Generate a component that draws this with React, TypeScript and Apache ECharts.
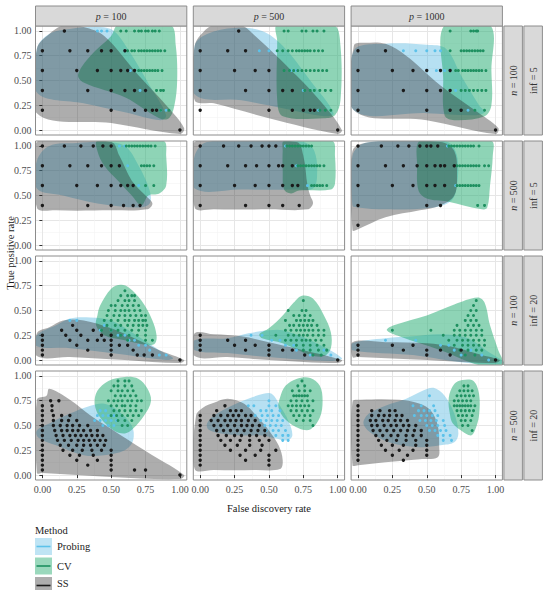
import React, { useEffect, useRef } from "react";
import * as echarts from "echarts";

type Rows = [number, number[]][];
type Hull = [number, number][];

// Facet levels
const pLevels = ["100", "500", "1000"];
const nLevels = ["100", "500", "100", "500"];
const infLevels = ["5", "5", "20", "20"];
const methods = ["Probing", "CV", "SS"];
const majorBreaks = [0, 0.25, 0.5, 0.75, 1];
const minorBreaks = [0.125, 0.375, 0.625, 0.875];

// Points are stored as rows: [true positive rate, [false discovery rates]]
// ---- n = 100, inf = 5 ----
const pts_ss_n100_inf5_p100: Rows = [[1.0, [0.16]], [0.8, [0, 0.2, 0.33, 0.43, 0.5, 0.6]], [0.6, [0, 0.25, 0.4, 0.5, 0.57, 0.62, 0.67]], [0.4, [0, 0.33, 0.5, 0.6, 0.67, 0.75]], [0.2, [0, 0.5, 0.67, 0.75, 0.8, 0.83]], [0, [1.0]]];
const pts_pr_n100_inf5_p100: Rows = [[1.0, [0.4, 0.43, 0.47]], [0.8, [0.6]], [0.6, [0.64]], [0.4, [0.71, 0.75]], [0.2, [0.86, 0.9]]];
const pts_cv_n100_inf5_p100: Rows = [[1.0, [0.57, 0.61, 0.67, 0.7, 0.72, 0.75, 0.77, 0.8, 0.82, 0.85]], [0.8, [0.62, 0.65, 0.67, 0.7, 0.72, 0.74, 0.76, 0.78, 0.8, 0.82, 0.84, 0.86, 0.89]], [0.6, [0.7, 0.72, 0.74, 0.76, 0.78, 0.8, 0.82, 0.84, 0.87]], [0.4, [0.83, 0.86, 0.88]], [0.2, [0.86, 0.92]]];
const pts_ss_n100_inf5_p500: Rows = [[1.0, [0.28]], [0.8, [0, 0.2, 0.33]], [0.6, [0, 0.25, 0.4, 0.5]], [0.4, [0, 0.33, 0.5, 0.6, 0.67]], [0.2, [0, 0.5, 0.67, 0.75, 0.8, 0.83]], [0, [1.0]]];
const pts_pr_n100_inf5_p500: Rows = [[0.8, [0.43, 0.5]], [0.6, [0.66, 0.7]], [0.4, [0.75]], [0.2, [0.86]]];
const pts_cv_n100_inf5_p500: Rows = [[1.0, [0.61, 0.64, 0.74, 0.77, 0.82, 0.85, 0.9]], [0.8, [0.56, 0.6, 0.64, 0.67, 0.7, 0.72, 0.74, 0.76, 0.78, 0.8, 0.83, 0.86, 0.89]], [0.6, [0.61, 0.65, 0.68, 0.71, 0.74, 0.77, 0.8, 0.83, 0.86, 0.89, 0.92]], [0.4, [0.76, 0.8, 0.83, 0.87, 0.91, 0.95]], [0.2, [0.87, 0.91, 0.95]]];
const pts_ss_n100_inf5_p1000: Rows = [[0.8, [0, 0.2]], [0.6, [0, 0.25, 0.4, 0.5, 0.6, 0.67]], [0.4, [0, 0.33, 0.5, 0.6, 0.67]], [0.2, [0, 0.5, 0.67, 0.75]], [0, [1.0]]];
const pts_pr_n100_inf5_p1000: Rows = [[0.8, [0.33, 0.42, 0.5, 0.56, 0.6]], [0.6, [0.57, 0.63, 0.67]], [0.4, [0.71]], [0.2, [0.8]]];
const pts_cv_n100_inf5_p1000: Rows = [[1.0, [0.67, 0.82, 0.84, 0.86, 0.87]], [0.8, [0.67, 0.75, 0.77, 0.79, 0.81, 0.83, 0.85, 0.87, 0.89, 0.91]], [0.6, [0.71, 0.73, 0.76, 0.78, 0.8, 0.82, 0.84, 0.86, 0.88, 0.9, 0.93]], [0.4, [0.75, 0.78, 0.81, 0.84, 0.87, 0.9, 0.93]], [0.2, [0.85, 0.92]]];

// ---- n = 500, inf = 5 ----
const pts_ss_n500_inf5_p100: Rows = [[1.0, [0, 0.16, 0.28, 0.37, 0.44, 0.5]], [0.8, [0, 0.2, 0.33, 0.43, 0.5, 0.56]], [0.6, [0, 0.25, 0.4, 0.5, 0.57, 0.62, 0.66]], [0.4, [0, 0.33, 0.5, 0.59, 0.66, 0.71]]];
const pts_pr_n500_inf5_p100: Rows = [[1.0, [0.56, 0.6]], [0.8, [0.62]], [0.6, [0.7]]];
const pts_cv_n500_inf5_p100: Rows = [[1.0, [0.61, 0.63, 0.65, 0.67, 0.69, 0.71, 0.73, 0.75, 0.77, 0.79, 0.82]], [0.8, [0.72, 0.74, 0.76, 0.78, 0.81]], [0.6, [0.75, 0.81]]];
const pts_ss_n500_inf5_p500: Rows = [[1.0, [0, 0.17, 0.28, 0.37, 0.45, 0.5, 0.55]], [0.8, [0, 0.2, 0.33, 0.41, 0.5, 0.57, 0.6, 0.67]], [0.6, [0, 0.25, 0.4, 0.5, 0.6, 0.67, 0.71]], [0.4, [0, 0.33, 0.5, 0.6, 0.72]]];
const pts_pr_n500_inf5_p500: Rows = [[1.0, [0.62]], [0.8, [0.7]], [0.6, [0.78]]];
const pts_cv_n500_inf5_p500: Rows = [[1.0, [0.63, 0.65, 0.67, 0.69, 0.71, 0.73, 0.75, 0.77, 0.79, 0.81]], [0.8, [0.71, 0.73, 0.75, 0.77, 0.79, 0.81, 0.83, 0.85, 0.87, 0.9]], [0.6, [0.81, 0.83, 0.85, 0.87, 0.89, 0.92]]];
const pts_ss_n500_inf5_p1000: Rows = [[1.0, [0, 0.17, 0.29, 0.37, 0.45, 0.5, 0.53, 0.58]], [0.8, [0, 0.2, 0.33, 0.43, 0.5, 0.56, 0.6, 0.63, 0.7]], [0.6, [0, 0.25, 0.4, 0.5, 0.56, 0.63]], [0.4, [0, 0.5, 0.6]], [0.2, [0]]];
const pts_pr_n500_inf5_p1000: Rows = [[1.0, [0.65]], [0.6, [0.71]]];
const pts_cv_n500_inf5_p1000: Rows = [[1.0, [0.66, 0.68, 0.7, 0.72, 0.74, 0.76, 0.78, 0.8, 0.82, 0.84, 0.88]], [0.8, [0.7, 0.72, 0.74, 0.76, 0.78, 0.8, 0.82, 0.84, 0.86, 0.88, 0.92, 0.95]], [0.6, [0.72, 0.74, 0.76, 0.78, 0.8, 0.82, 0.84, 0.86, 0.88]], [0.4, [0.87, 0.92]]];

// ---- n = 100, inf = 20 ----
const pts_ss_n100_inf20_p100: Rows = [[0.35, [0.22]], [0.3, [0.14, 0.25, 0.37]], [0.25, [0, 0.17, 0.28, 0.43, 0.5]], [0.2, [0, 0.2, 0.33, 0.4, 0.45, 0.5]], [0.15, [0, 0.25, 0.5, 0.56, 0.62]], [0.1, [0, 0.33, 0.5, 0.66]], [0.05, [0, 0.5, 0.69, 0.74, 0.8]], [0, [1.0]]];
const pts_pr_n100_inf20_p100: Rows = [[0.4, [0.2, 0.25]], [0.35, [0.45]], [0.3, [0.42, 0.5]], [0.25, [0.55, 0.6]], [0.2, [0.63, 0.67]], [0.15, [0.7, 0.75]], [0.1, [0.78]], [0.05, [0.85, 0.9]]];
const pts_cv_n100_inf20_p100: Rows = [[0.7, [0.6]], [0.65, [0.57, 0.62, 0.65, 0.67]], [0.6, [0.55, 0.6, 0.63, 0.67]], [0.55, [0.5, 0.53, 0.58, 0.62, 0.66, 0.7]], [0.5, [0.48, 0.53, 0.57, 0.6, 0.63, 0.67, 0.71]], [0.45, [0.47, 0.52, 0.56, 0.6, 0.64, 0.68, 0.72, 0.75]], [0.4, [0.45, 0.5, 0.55, 0.6, 0.63, 0.67, 0.7, 0.73, 0.75]], [0.35, [0.47, 0.53, 0.57, 0.62, 0.66, 0.7, 0.73, 0.76]], [0.3, [0.43, 0.5, 0.55, 0.6, 0.65, 0.7, 0.75]], [0.25, [0.5, 0.57, 0.63, 0.69, 0.75]], [0.2, [0.62, 0.75, 0.8]]];
const pts_ss_n100_inf20_p500: Rows = [[0.25, [0]], [0.2, [0, 0.2, 0.33]], [0.15, [0, 0.25, 0.4, 0.5]], [0.1, [0, 0.33, 0.5, 0.6, 0.67]], [0.05, [0.5, 0.76]], [0, [1.0]]];
const pts_pr_n100_inf20_p500: Rows = [[0.25, [0.37, 0.45]], [0.2, [0.52, 0.58]], [0.15, [0.62, 0.68]], [0.1, [0.7, 0.9]], [0.05, [0.8, 0.95]]];
const pts_cv_n100_inf20_p500: Rows = [[0.6, [0.75]], [0.5, [0.64, 0.74, 0.77]], [0.45, [0.68, 0.72, 0.76, 0.8]], [0.4, [0.62, 0.7, 0.73, 0.76, 0.79, 0.82]], [0.35, [0.65, 0.68, 0.72, 0.75, 0.78, 0.81, 0.85]], [0.3, [0.62, 0.66, 0.7, 0.73, 0.76, 0.79, 0.82, 0.86, 0.9]], [0.25, [0.55, 0.64, 0.68, 0.72, 0.75, 0.78, 0.82, 0.86, 0.9]], [0.2, [0.62, 0.66, 0.7, 0.74, 0.77, 0.8, 0.84, 0.88]], [0.15, [0.7, 0.75, 0.8, 0.85, 0.9]], [0.1, [0.75, 0.8, 0.86, 0.92]], [0.05, [0.82, 0.88]]];
const pts_ss_n100_inf20_p1000: Rows = [[0.15, [0, 0.25, 0.4]], [0.1, [0, 0.33, 0.5, 0.6, 0.75]], [0.05, [0, 0.5, 0.67]], [0, [1.0]]];
const pts_pr_n100_inf20_p1000: Rows = [[0.2, [0.2, 0.42]], [0.15, [0.6, 0.66]], [0.1, [0.7, 0.82]], [0.05, [0.75, 0.9]], [0, [0.95]]];
const pts_cv_n100_inf20_p1000: Rows = [[0.6, [0.86]], [0.55, [0.84]], [0.5, [0.82, 0.86]], [0.45, [0.8, 0.84]], [0.4, [0.78, 0.82, 0.86]], [0.35, [0.72, 0.8, 0.84, 0.88]], [0.3, [0.25, 0.53, 0.7, 0.74, 0.78, 0.82, 0.86, 0.9]], [0.25, [0.62, 0.7, 0.74, 0.78, 0.82, 0.86, 0.9]], [0.2, [0.66, 0.72, 0.76, 0.8, 0.84, 0.88, 0.92]], [0.15, [0.7, 0.76, 0.8, 0.84, 0.88, 0.92]], [0.1, [0.74, 0.8, 0.86, 0.9]], [0.05, [0.78, 0.85]]];

// ---- n = 500, inf = 20 ----
const pts_ss_n500_inf20_p100: Rows = [[0.75, [0.06, 0.12]], [0.7, [0, 0.07]], [0.65, [0, 0.07]], [0.6, [0, 0.08, 0.14, 0.2]], [0.55, [0, 0.08, 0.14, 0.19, 0.25]], [0.5, [0, 0.08, 0.13, 0.18, 0.22, 0.27, 0.33]], [0.45, [0, 0.09, 0.14, 0.18, 0.22, 0.26, 0.3, 0.35, 0.4]], [0.4, [0, 0.1, 0.15, 0.2, 0.24, 0.28, 0.32, 0.36, 0.4, 0.44]], [0.35, [0, 0.11, 0.16, 0.21, 0.26, 0.3, 0.34, 0.38, 0.42, 0.46]], [0.3, [0, 0.13, 0.19, 0.25, 0.3, 0.35, 0.4, 0.45]], [0.25, [0, 0.15, 0.22, 0.29, 0.36, 0.43, 0.5]], [0.2, [0, 0.2, 0.27, 0.37, 0.5]], [0.15, [0, 0.25, 0.4, 0.5]], [0.1, [0, 0.33, 0.5]], [0.05, [0, 0.5, 0.67, 0.75]], [0, [1.0]]];
const pts_pr_n500_inf20_p100: Rows = [[0.65, [0.42, 0.46]], [0.6, [0.4, 0.44, 0.48, 0.52]], [0.55, [0.38, 0.42, 0.46, 0.5, 0.54]], [0.5, [0.44, 0.48, 0.52]]];
const pts_cv_n500_inf20_p100: Rows = [[0.95, [0.55, 0.6, 0.63]], [0.9, [0.52, 0.55, 0.6, 0.65]], [0.85, [0.5, 0.55, 0.58, 0.62, 0.66]], [0.8, [0.53, 0.57, 0.6, 0.64, 0.68]], [0.75, [0.48, 0.52, 0.55, 0.58, 0.62, 0.65, 0.69, 0.72]], [0.7, [0.5, 0.54, 0.58, 0.6, 0.64, 0.68]], [0.65, [0.52, 0.56, 0.6, 0.64, 0.68, 0.72]], [0.6, [0.5, 0.54, 0.58, 0.62, 0.66, 0.7]], [0.55, [0.55, 0.6, 0.65]], [0.5, [0.58, 0.62]]];
const pts_ss_n500_inf20_p500: Rows = [[0.7, [0.18]], [0.65, [0.12, 0.22, 0.26, 0.3]], [0.6, [0, 0.1, 0.15, 0.2, 0.24, 0.28, 0.33, 0.37]], [0.55, [0, 0.08, 0.13, 0.18, 0.22, 0.26, 0.3, 0.35, 0.4]], [0.5, [0, 0.1, 0.15, 0.2, 0.25, 0.3, 0.34, 0.38, 0.43]], [0.45, [0, 0.12, 0.17, 0.22, 0.27, 0.32, 0.37, 0.42, 0.47]], [0.4, [0, 0.13, 0.19, 0.25, 0.3, 0.36, 0.41, 0.47]], [0.35, [0, 0.15, 0.22, 0.29, 0.36, 0.43, 0.5]], [0.3, [0, 0.18, 0.27, 0.36, 0.45]], [0.25, [0, 0.22, 0.33, 0.44, 0.55]], [0.2, [0, 0.29, 0.4, 0.5]], [0.15, [0, 0.33, 0.5]], [0.1, [0, 0.5]]];
const pts_pr_n500_inf20_p500: Rows = [[0.75, [0.5]], [0.7, [0.35, 0.39, 0.5, 0.55]], [0.65, [0.44, 0.48, 0.52, 0.58]], [0.6, [0.4, 0.45, 0.49, 0.53, 0.57]], [0.55, [0.44, 0.48, 0.52, 0.56, 0.6]], [0.5, [0.47, 0.51, 0.55, 0.59]], [0.45, [0.48, 0.53, 0.57, 0.62]], [0.4, [0.55, 0.6, 0.64]], [0.35, [0.6, 0.64]]];
const pts_cv_n500_inf20_p500: Rows = [[0.95, [0.74]], [0.9, [0.71, 0.76]], [0.85, [0.67, 0.72, 0.76, 0.8]], [0.8, [0.68, 0.7, 0.72, 0.74, 0.76, 0.78]], [0.75, [0.66, 0.7, 0.74, 0.78, 0.82]], [0.7, [0.64, 0.67, 0.7, 0.73, 0.76, 0.79]], [0.65, [0.66, 0.7, 0.74, 0.78, 0.82]], [0.6, [0.68, 0.72, 0.76, 0.8]], [0.55, [0.7, 0.75, 0.8]], [0.5, [0.82]]];
const pts_ss_n500_inf20_p1000: Rows = [[0.7, [0]], [0.65, [0, 0.1, 0.16, 0.23, 0.27]], [0.6, [0, 0.1, 0.15, 0.19, 0.23, 0.28, 0.32]], [0.55, [0, 0.09, 0.13, 0.18, 0.22, 0.27, 0.31, 0.36]], [0.5, [0, 0.1, 0.14, 0.19, 0.24, 0.28, 0.33, 0.37, 0.42]], [0.45, [0, 0.11, 0.16, 0.21, 0.26, 0.31, 0.36, 0.41, 0.46]], [0.4, [0, 0.13, 0.18, 0.24, 0.29, 0.35, 0.4, 0.46]], [0.35, [0, 0.15, 0.21, 0.28, 0.35, 0.42, 0.5]], [0.3, [0, 0.17, 0.25, 0.33, 0.42, 0.5]], [0.25, [0, 0.2, 0.3, 0.4, 0.5]], [0.2, [0, 0.25, 0.36, 0.5]], [0.15, [0, 0.33]]];
const pts_pr_n500_inf20_p1000: Rows = [[0.8, [0.52]], [0.7, [0.4, 0.46, 0.55]], [0.65, [0.44, 0.48, 0.52, 0.56]], [0.6, [0.41, 0.46, 0.5, 0.54, 0.58]], [0.55, [0.45, 0.49, 0.53, 0.57, 0.62]], [0.5, [0.5, 0.54, 0.58, 0.63]], [0.45, [0.52, 0.56, 0.6, 0.64]], [0.4, [0.58, 0.62, 0.67]], [0.35, [0.62, 0.68]]];
const pts_cv_n500_inf20_p1000: Rows = [[0.9, [0.77, 0.8]], [0.85, [0.74, 0.77, 0.8, 0.83]], [0.8, [0.72, 0.75, 0.78, 0.81, 0.84]], [0.75, [0.7, 0.73, 0.76, 0.79, 0.82]], [0.7, [0.7, 0.72, 0.74, 0.76, 0.78, 0.8, 0.82, 0.85]], [0.65, [0.72, 0.75, 0.78, 0.81, 0.84]], [0.6, [0.73, 0.76, 0.79, 0.83]], [0.55, [0.75, 0.78, 0.82]], [0.5, [0.76, 0.8]], [0.45, [0.83]]];

// Hull outlines per method and facet: [false discovery rate, true positive rate]
const hull_ss_n100_inf5_p100: Hull = [[-0.04, 0.17], [-0.04, 0.82], [0.05, 0.97], [0.16, 1.06], [0.3, 1.04], [0.45, 0.95], [0.7, 0.55], [0.9, 0.25], [1.03, 0.02], [1.0, -0.04], [0.5, 0.07]];
const hull_pr_n100_inf5_p100: Hull = [[-0.04, 0.38], [-0.04, 0.82], [0.05, 0.97], [0.2, 1.02], [0.42, 1.04], [0.52, 1.0], [0.63, 0.8], [0.78, 0.45], [0.9, 0.15], [0.86, 0.1], [0.6, 0.18], [0.3, 0.27]];
const hull_cv_n100_inf5_p100: Hull = [[0.55, 1.06], [0.93, 1.06], [0.97, 0.85], [0.98, 0.5], [0.96, 0.25], [0.92, 0.12], [0.85, 0.12], [0.6, 0.33], [0.3, 0.48], [0.26, 0.56], [0.35, 0.75], [0.5, 0.95]];
const hull_ss_n100_inf5_p500: Hull = [[-0.04, 0.3], [-0.04, 0.85], [0.03, 1.0], [0.1, 1.06], [0.28, 1.07], [0.4, 0.95], [0.7, 0.55], [0.9, 0.25], [1.03, 0.0], [1.0, -0.04], [0.5, 0.12], [0.1, 0.27]];
const hull_pr_n100_inf5_p500: Hull = [[-0.04, 0.36], [-0.04, 0.85], [0.05, 0.97], [0.25, 1.03], [0.45, 1.0], [0.6, 0.85], [0.8, 0.5], [0.97, 0.17], [0.9, 0.14], [0.6, 0.22], [0.3, 0.3]];
const hull_cv_n100_inf5_p500: Hull = [[0.56, 1.06], [0.97, 1.06], [1.02, 0.85], [1.02, 0.3], [0.98, 0.15], [0.9, 0.12], [0.6, 0.14], [0.56, 0.3], [0.56, 0.9]];
const hull_ss_n100_inf5_p1000: Hull = [[-0.03, 0.2], [-0.03, 0.85], [0.05, 0.88], [0.2, 0.87], [0.35, 0.75], [0.6, 0.45], [0.85, 0.2], [1.02, 0.02], [1.0, -0.04], [0.5, 0.1]];
const hull_pr_n100_inf5_p1000: Hull = [[-0.03, 0.2], [-0.03, 0.8], [0.2, 0.87], [0.5, 0.86], [0.64, 0.82], [0.75, 0.55], [0.88, 0.25], [0.92, 0.18], [0.85, 0.15], [0.5, 0.17]];
const hull_cv_n100_inf5_p1000: Hull = [[0.63, 1.06], [0.96, 1.06], [0.97, 0.6], [0.97, 0.25], [0.92, 0.14], [0.7, 0.1], [0.63, 0.15], [0.62, 0.5]];

const hull_ss_n500_inf5_p100: Hull = [[-0.04, 0.38], [-0.04, 1.04], [0.5, 1.04], [0.56, 0.9], [0.65, 0.65], [0.75, 0.5], [0.8, 0.42], [0.76, 0.36], [0.5, 0.35], [0.1, 0.35]];
const hull_pr_n500_inf5_p100: Hull = [[-0.04, 0.57], [-0.04, 0.85], [0.05, 1.0], [0.25, 1.03], [0.45, 1.04], [0.6, 1.0], [0.7, 0.8], [0.78, 0.55], [0.78, 0.42], [0.7, 0.38], [0.4, 0.42], [0.15, 0.5]];
const hull_cv_n500_inf5_p100: Hull = [[0.4, 1.05], [0.88, 1.05], [0.9, 0.9], [0.9, 0.6], [0.85, 0.52], [0.77, 0.5], [0.72, 0.4], [0.65, 0.5], [0.55, 0.65], [0.45, 0.8], [0.4, 0.95]];
const hull_ss_n500_inf5_p500: Hull = [[-0.04, 0.38], [-0.04, 1.04], [0.7, 1.04], [0.75, 0.9], [0.78, 0.6], [0.8, 0.5], [0.82, 0.42], [0.78, 0.36], [0.5, 0.36], [0.1, 0.36]];
const hull_pr_n500_inf5_p500: Hull = [[-0.04, 0.57], [-0.04, 0.9], [0.05, 1.04], [0.5, 1.05], [0.75, 1.04], [0.83, 0.95], [0.85, 0.7], [0.82, 0.57], [0.7, 0.56], [0.3, 0.56]];
const hull_cv_n500_inf5_p500: Hull = [[0.61, 1.05], [0.96, 1.05], [0.98, 0.9], [0.98, 0.62], [0.95, 0.56], [0.72, 0.55], [0.66, 0.52], [0.61, 0.56], [0.6, 0.75], [0.6, 0.95]];
const hull_ss_n500_inf5_p1000: Hull = [[-0.04, 0.15], [-0.04, 0.95], [0.1, 1.04], [0.6, 1.04], [0.7, 0.95], [0.72, 0.7], [0.7, 0.5], [0.6, 0.4], [0.45, 0.35], [0.2, 0.28], [0.0, 0.16]];
const hull_pr_n500_inf5_p1000: Hull = [[-0.04, 0.4], [-0.04, 0.9], [0.05, 1.03], [0.4, 1.05], [0.65, 1.04], [0.72, 0.9], [0.72, 0.6], [0.68, 0.45], [0.55, 0.38], [0.2, 0.36], [0.0, 0.38]];
const hull_cv_n500_inf5_p1000: Hull = [[0.44, 1.04], [0.55, 1.06], [0.97, 1.05], [0.98, 0.9], [0.96, 0.6], [0.94, 0.38], [0.9, 0.36], [0.65, 0.44], [0.5, 0.47], [0.44, 0.55], [0.43, 0.8]];

const hull_ss_n100_inf20_p100: Hull = [[-0.04, 0.04], [-0.04, 0.27], [0.05, 0.33], [0.15, 0.4], [0.3, 0.4], [0.5, 0.32], [0.7, 0.2], [0.85, 0.1], [1.03, 0.0], [1.0, -0.03], [0.6, 0.0], [0.2, 0.03]];
const hull_pr_n100_inf20_p100: Hull = [[-0.04, 0.14], [-0.04, 0.25], [0.1, 0.35], [0.2, 0.42], [0.35, 0.43], [0.5, 0.4], [0.65, 0.28], [0.85, 0.1], [0.95, 0.02], [0.9, 0.0], [0.5, 0.07], [0.2, 0.12]];
const hull_cv_n100_inf20_p100: Hull = [[0.42, 0.55], [0.5, 0.72], [0.57, 0.76], [0.63, 0.73], [0.72, 0.6], [0.8, 0.4], [0.83, 0.25], [0.82, 0.17], [0.77, 0.15], [0.6, 0.2], [0.45, 0.25], [0.39, 0.35], [0.4, 0.45]];
const hull_ss_n100_inf20_p500: Hull = [[-0.04, 0.04], [-0.04, 0.27], [0.1, 0.26], [0.3, 0.24], [0.5, 0.18], [0.75, 0.1], [1.03, 0.0], [1.0, -0.03], [0.5, 0.0], [0.2, 0.03]];
const hull_pr_n100_inf20_p500: Hull = [[-0.04, 0.1], [-0.04, 0.2], [0.2, 0.22], [0.35, 0.27], [0.5, 0.3], [0.6, 0.3], [0.8, 0.2], [1.03, 0.02], [0.95, -0.01], [0.5, 0.03], [0.2, 0.07]];
const hull_cv_n100_inf20_p500: Hull = [[0.43, 0.26], [0.5, 0.32], [0.6, 0.45], [0.68, 0.58], [0.74, 0.65], [0.82, 0.62], [0.9, 0.45], [0.95, 0.28], [0.95, 0.12], [0.9, 0.04], [0.8, 0.05], [0.6, 0.17], [0.45, 0.22]];
const hull_ss_n100_inf20_p1000: Hull = [[-0.04, 0.03], [-0.04, 0.18], [0.2, 0.18], [0.5, 0.17], [0.7, 0.13], [0.9, 0.05], [1.03, 0.0], [1.0, -0.03], [0.5, 0.0], [0.0, 0.03]];
const hull_pr_n100_inf20_p1000: Hull = [[-0.04, 0.1], [-0.04, 0.17], [0.2, 0.22], [0.4, 0.24], [0.6, 0.26], [0.8, 0.22], [0.95, 0.08], [1.06, -0.03], [0.8, -0.03], [0.4, 0.05]];
const hull_cv_n100_inf20_p1000: Hull = [[0.21, 0.3], [0.26, 0.35], [0.5, 0.45], [0.7, 0.56], [0.87, 0.63], [0.92, 0.58], [0.96, 0.35], [1.02, 0.1], [1.06, -0.06], [0.9, -0.06], [0.6, 0.1], [0.3, 0.24]];

const hull_ss_n500_inf20_p100: Hull = [[-0.04, 0.02], [-0.04, 0.76], [0.03, 0.8], [0.05, 0.87], [0.2, 0.76], [0.35, 0.6], [0.55, 0.42], [0.8, 0.2], [1.03, 0.0], [1.0, -0.04], [0.5, -0.02], [0.0, 0.02]];
const hull_pr_n500_inf20_p100: Hull = [[-0.04, 0.45], [0.05, 0.52], [0.2, 0.62], [0.35, 0.7], [0.45, 0.72], [0.55, 0.65], [0.65, 0.5], [0.66, 0.35], [0.6, 0.25], [0.45, 0.2], [0.3, 0.2], [0.1, 0.3], [-0.03, 0.38]];
const hull_cv_n500_inf20_p100: Hull = [[0.38, 0.72], [0.4, 0.85], [0.48, 0.95], [0.6, 0.99], [0.7, 0.97], [0.76, 0.88], [0.79, 0.75], [0.74, 0.6], [0.66, 0.47], [0.6, 0.42], [0.52, 0.45], [0.42, 0.58]];
const hull_ss_n500_inf20_p500: Hull = [[-0.04, 0.06], [-0.03, 0.6], [0.02, 0.68], [0.1, 0.73], [0.2, 0.77], [0.32, 0.72], [0.42, 0.58], [0.5, 0.45], [0.57, 0.3], [0.6, 0.15], [0.58, 0.06], [0.4, 0.05], [0.1, 0.05]];
const hull_pr_n500_inf20_p500: Hull = [[0.05, 0.52], [0.1, 0.6], [0.2, 0.68], [0.33, 0.76], [0.46, 0.82], [0.52, 0.82], [0.58, 0.7], [0.64, 0.55], [0.67, 0.4], [0.63, 0.35], [0.55, 0.37], [0.45, 0.4], [0.3, 0.4], [0.15, 0.42], [0.06, 0.46]];
const hull_cv_n500_inf20_p500: Hull = [[0.58, 0.78], [0.62, 0.9], [0.7, 0.97], [0.8, 0.98], [0.87, 0.9], [0.89, 0.75], [0.87, 0.58], [0.8, 0.46], [0.72, 0.47], [0.62, 0.56], [0.57, 0.68]];
const hull_ss_n500_inf20_p1000: Hull = [[-0.04, 0.1], [-0.04, 0.74], [0.02, 0.76], [0.3, 0.76], [0.45, 0.72], [0.53, 0.65], [0.58, 0.5], [0.59, 0.3], [0.58, 0.18], [0.45, 0.16], [0.2, 0.13], [0.0, 0.1]];
const hull_pr_n500_inf20_p1000: Hull = [[0.04, 0.52], [0.08, 0.62], [0.2, 0.7], [0.35, 0.77], [0.47, 0.85], [0.55, 0.88], [0.63, 0.8], [0.7, 0.62], [0.73, 0.42], [0.7, 0.33], [0.6, 0.3], [0.45, 0.28], [0.25, 0.32], [0.1, 0.42]];
const hull_cv_n500_inf20_p1000: Hull = [[0.67, 0.6], [0.66, 0.78], [0.7, 0.92], [0.76, 0.96], [0.84, 0.95], [0.88, 0.82], [0.88, 0.6], [0.85, 0.45], [0.82, 0.4], [0.75, 0.45], [0.69, 0.52]];

// Facet table (rows: n/inf, columns: p)
const facetPoints: Rows[][][] = [
  [[pts_pr_n100_inf5_p100, pts_cv_n100_inf5_p100, pts_ss_n100_inf5_p100], [pts_pr_n100_inf5_p500, pts_cv_n100_inf5_p500, pts_ss_n100_inf5_p500], [pts_pr_n100_inf5_p1000, pts_cv_n100_inf5_p1000, pts_ss_n100_inf5_p1000]],
  [[pts_pr_n500_inf5_p100, pts_cv_n500_inf5_p100, pts_ss_n500_inf5_p100], [pts_pr_n500_inf5_p500, pts_cv_n500_inf5_p500, pts_ss_n500_inf5_p500], [pts_pr_n500_inf5_p1000, pts_cv_n500_inf5_p1000, pts_ss_n500_inf5_p1000]],
  [[pts_pr_n100_inf20_p100, pts_cv_n100_inf20_p100, pts_ss_n100_inf20_p100], [pts_pr_n100_inf20_p500, pts_cv_n100_inf20_p500, pts_ss_n100_inf20_p500], [pts_pr_n100_inf20_p1000, pts_cv_n100_inf20_p1000, pts_ss_n100_inf20_p1000]],
  [[pts_pr_n500_inf20_p100, pts_cv_n500_inf20_p100, pts_ss_n500_inf20_p100], [pts_pr_n500_inf20_p500, pts_cv_n500_inf20_p500, pts_ss_n500_inf20_p500], [pts_pr_n500_inf20_p1000, pts_cv_n500_inf20_p1000, pts_ss_n500_inf20_p1000]],
];
const facetHulls: Hull[][][] = [
  [[hull_pr_n100_inf5_p100, hull_cv_n100_inf5_p100, hull_ss_n100_inf5_p100], [hull_pr_n100_inf5_p500, hull_cv_n100_inf5_p500, hull_ss_n100_inf5_p500], [hull_pr_n100_inf5_p1000, hull_cv_n100_inf5_p1000, hull_ss_n100_inf5_p1000]],
  [[hull_pr_n500_inf5_p100, hull_cv_n500_inf5_p100, hull_ss_n500_inf5_p100], [hull_pr_n500_inf5_p500, hull_cv_n500_inf5_p500, hull_ss_n500_inf5_p500], [hull_pr_n500_inf5_p1000, hull_cv_n500_inf5_p1000, hull_ss_n500_inf5_p1000]],
  [[hull_pr_n100_inf20_p100, hull_cv_n100_inf20_p100, hull_ss_n100_inf20_p100], [hull_pr_n100_inf20_p500, hull_cv_n100_inf20_p500, hull_ss_n100_inf20_p500], [hull_pr_n100_inf20_p1000, hull_cv_n100_inf20_p1000, hull_ss_n100_inf20_p1000]],
  [[hull_pr_n500_inf20_p100, hull_cv_n500_inf20_p100, hull_ss_n500_inf20_p100], [hull_pr_n500_inf20_p500, hull_cv_n500_inf20_p500, hull_ss_n500_inf20_p500], [hull_pr_n500_inf20_p1000, hull_cv_n500_inf20_p1000, hull_ss_n500_inf20_p1000]],
];

// Styling
const FONT = "'Liberation Serif', 'DejaVu Serif', serif";
const hullFill = ["rgba(80,180,225,0.42)", "rgba(30,170,110,0.5)", "rgba(40,40,40,0.38)"];
const pointColor = ["#5cc2ea", "#1e9060", "#1a1a1a"];
const keyFill = ["#bfe4f4", "#9ad8bc", "#adadad"];

// Panel layout in pixels
const COL_LEFT = [35.5, 193.3, 351.1];
const PANEL_W = 151.3;
const ROW_TOP = [26, 141, 256, 371];
const PANEL_H = 109;
const STRIP_H = 20;
const STRIP_W = 18.5;
const BORDER = "#8c8c8c";
const STRIP_FILL = "#d9d9d9";

const expand = (rows: Rows) => rows.flatMap(([tpr, fdrs]) => fdrs.map((f) => [f, tpr]));

function buildOption() {
  const grid: any[] = [];
  const xAxis: any[] = [];
  const yAxis: any[] = [];
  const series: any[] = [];
  const graphic: any[] = [];

  for (let r = 0; r < 4; r++) {
    for (let c = 0; c < 3; c++) {
      const gi = r * 3 + c;
      const isBottom = r === 3;
      const isLeft = c === 0;
      grid.push({
        left: COL_LEFT[c],
        top: ROW_TOP[r],
        width: PANEL_W,
        height: PANEL_H,
        show: true,
        backgroundColor: "#ffffff",
        borderWidth: 0,
        containLabel: false,
        outerBoundsMode: "none",
      });
      const label = (show: boolean) => ({
        show,
        customValues: majorBreaks,
        formatter: (v: number) => v.toFixed(2),
        fontFamily: FONT,
        fontSize: 10,
        color: "#4d4d4d",
        margin: 4,
        hideOverlap: false,
      });
      // major axes
      xAxis.push({
        type: "value", gridIndex: gi, min: -0.05, max: 1.05,
        axisLine: { show: false },
        axisTick: { show: isBottom, customValues: majorBreaks, length: 3, lineStyle: { color: "#333", width: 1 } },
        axisLabel: label(isBottom),
        splitLine: { show: true, lineStyle: { color: "#e6e6e6", width: 1 } },
      });
      yAxis.push({
        type: "value", gridIndex: gi, min: -0.05, max: 1.05,
        axisLine: { show: false },
        axisTick: { show: isLeft, customValues: majorBreaks, length: 3, lineStyle: { color: "#333", width: 1 } },
        axisLabel: label(isLeft),
        splitLine: { show: true, lineStyle: { color: "#e6e6e6", width: 1 } },
      });
      // minor grid axes
      xAxis.push({
        type: "value", gridIndex: gi, min: -0.05, max: 1.05,
        axisLine: { show: false },
        axisTick: { show: false, customValues: minorBreaks },
        axisLabel: { show: false, customValues: minorBreaks },
        splitLine: { show: true, lineStyle: { color: "#f3f3f3", width: 0.6 } },
      });
      yAxis.push({
        type: "value", gridIndex: gi, min: -0.05, max: 1.05,
        axisLine: { show: false },
        axisTick: { show: false, customValues: minorBreaks },
        axisLabel: { show: false, customValues: minorBreaks },
        splitLine: { show: true, lineStyle: { color: "#f3f3f3", width: 0.6 } },
      });

      // hull polygons: Probing, CV, SS
      methods.forEach((m, mi) => {
        const hull = facetHulls[r][c][mi];
        series.push({
          type: "custom",
          name: m,
          xAxisIndex: gi * 2,
          yAxisIndex: gi * 2,
          data: hull,
          clip: true,
          silent: true,
          z: 2 + mi * 0.01,
          renderItem: (params: any, api: any) => {
            if (params.dataIndex !== 0) return null;
            const pts = hull.map((v) => api.coord(v));
            return {
              type: "polygon",
              shape: { points: pts, smooth: 0.35 },
              style: { fill: hullFill[mi], stroke: "none" },
            };
          },
        });
      });
      // points
      methods.forEach((m, mi) => {
        series.push({
          type: "scatter",
          name: m,
          xAxisIndex: gi * 2,
          yAxisIndex: gi * 2,
          data: expand(facetPoints[r][c][mi]),
          symbol: "circle",
          symbolSize: mi === 2 ? 3.4 : 3,
          itemStyle: { color: pointColor[mi], opacity: 1 },
          silent: true,
          clip: false,
          z: 3 + mi * 0.01,
        });
      });

      // panel border on top
      graphic.push({
        type: "rect", z: 100, silent: true,
        shape: { x: COL_LEFT[c], y: ROW_TOP[r], width: PANEL_W, height: PANEL_H },
        style: { fill: "none", stroke: BORDER, lineWidth: 1 },
      });
    }
  }

  // top strips (p)
  pLevels.forEach((p, c) => {
    graphic.push({
      type: "rect", z: 100, silent: true,
      shape: { x: COL_LEFT[c], y: ROW_TOP[0] - STRIP_H, width: PANEL_W, height: STRIP_H },
      style: { fill: STRIP_FILL, stroke: BORDER, lineWidth: 1 },
    });
    graphic.push({
      type: "text", z: 101, silent: true,
      x: COL_LEFT[c] + PANEL_W / 2, y: ROW_TOP[0] - STRIP_H / 2,
      style: {
        text: `{i|p} = ${p}`,
        rich: { i: { fontStyle: "italic", fontFamily: FONT, fontSize: 10, fill: "#333" } },
        fontFamily: FONT, fontSize: 10, fill: "#333", align: "center", verticalAlign: "middle",
      },
    });
  });

  // right strips (n, inf)
  const stripX1 = COL_LEFT[2] + PANEL_W + 1.5;
  const stripX2 = stripX1 + STRIP_W + 1.5;
  for (let r = 0; r < 4; r++) {
    [stripX1, stripX2].forEach((sx, k) => {
      graphic.push({
        type: "rect", z: 100, silent: true,
        shape: { x: sx, y: ROW_TOP[r], width: STRIP_W, height: PANEL_H },
        style: { fill: STRIP_FILL, stroke: BORDER, lineWidth: 1 },
      });
      graphic.push({
        type: "text", z: 101, silent: true,
        x: sx + STRIP_W / 2, y: ROW_TOP[r] + PANEL_H / 2,
        rotation: Math.PI / 2,
        style: {
          text: k === 0 ? `{i|n} = ${nLevels[r]}` : `inf = ${infLevels[r]}`,
          rich: { i: { fontStyle: "italic", fontFamily: FONT, fontSize: 10, fill: "#333" } },
          fontFamily: FONT, fontSize: 10, fill: "#333", align: "center", verticalAlign: "middle",
        },
      });
    });
  }

  // axis titles
  graphic.push({
    type: "text", silent: true,
    x: (COL_LEFT[0] + COL_LEFT[2] + PANEL_W) / 2, y: 508,
    style: { text: "False discovery rate", fontFamily: FONT, fontSize: 10.5, fill: "#1a1a1a", align: "center", verticalAlign: "middle" },
  });
  graphic.push({
    type: "text", silent: true,
    x: 10, y: (ROW_TOP[0] + ROW_TOP[3] + PANEL_H) / 2,
    rotation: Math.PI / 2,
    style: { text: "True positive rate", fontFamily: FONT, fontSize: 10.5, fill: "#1a1a1a", align: "center", verticalAlign: "middle" },
  });

  // legend
  graphic.push({
    type: "text", silent: true, x: 35, y: 530,
    style: { text: "Method", fontFamily: FONT, fontSize: 10.5, fill: "#1a1a1a", align: "left", verticalAlign: "middle" },
  });
  methods.forEach((m, mi) => {
    const ky = 538 + mi * 19.5;
    graphic.push({
      type: "rect", silent: true,
      shape: { x: 35, y: ky, width: 17, height: 17 },
      style: { fill: keyFill[mi], stroke: "none" },
    });
    graphic.push({
      type: "line", silent: true,
      shape: { x1: 36.5, y1: ky + 8.5, x2: 50.5, y2: ky + 8.5 },
      style: { stroke: pointColor[mi], lineWidth: 1.6 },
    });
    graphic.push({
      type: "text", silent: true, x: 57, y: mi === 2 ? ky + 6.5 : ky + 8.5,
      style: { text: m, fontFamily: FONT, fontSize: 10.5, fill: "#1a1a1a", align: "left", verticalAlign: "middle" },
    });
  });

  return {
    animation: false,
    backgroundColor: "#ffffff",
    grid, xAxis, yAxis, series, graphic,
  };
}

export default function App() {
  const ref = useRef<HTMLDivElement>(null);
  useEffect(() => {
    if (!ref.current) return;
    const chart = echarts.init(ref.current, undefined, { renderer: "svg" });
    chart.setOption(buildOption() as any);
    return () => chart.dispose();
  }, []);
  return (
    <div
      ref={ref}
      style={{ position: "fixed", left: 0, top: 0, width: 544, height: 590, background: "#fff" }}
    />
  );
}
